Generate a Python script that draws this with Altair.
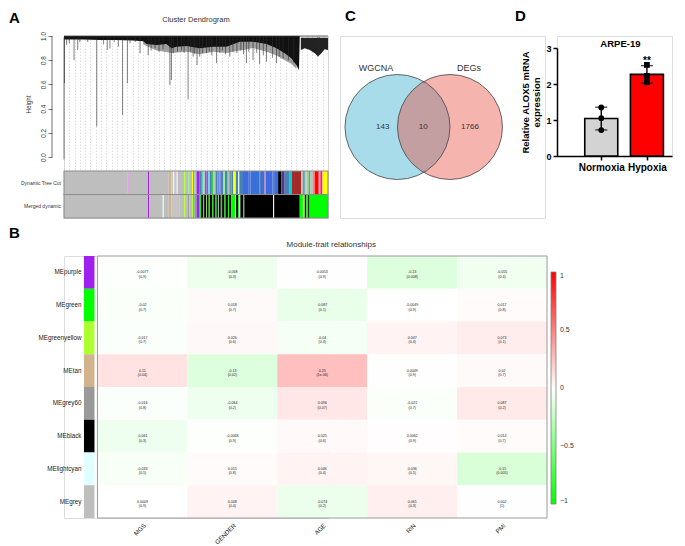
import altair as alt
import numpy as np
import pandas as pd

FONT = "Liberation Sans"

# ---------------- Panel A: cluster dendrogram (leaf order 0..1000, height) ----------------
core_u = [0, 73, 136, 199, 262, 300, 313, 351, 388, 407, 426, 464, 514, 565, 615, 666, 716, 767, 805, 836, 861, 880, 890, 893]
core_h = [0.972, 0.972, 0.967, 0.967, 0.962, 0.956, 0.934, 0.926, 0.934, 0.898, 0.912, 0.918, 0.898, 0.912, 0.912, 0.953, 0.953, 0.934, 0.898, 0.857, 0.816, 0.761, 0.72, 0.99]
fringe_u = [300, 351, 407, 464, 514, 565, 615, 666, 716, 767, 805, 836, 861, 880]
fringe_h = [0.93, 0.88, 0.86, 0.87, 0.85, 0.87, 0.86, 0.88, 0.9, 0.87, 0.84, 0.8, 0.77, 0.73]
right_u = [897, 912, 931, 950, 962, 975, 987, 1000]
right_h = [0.885, 0.898, 0.885, 0.857, 0.83, 0.857, 0.89, 0.885]
drop_u = [0, 2, 10, 20, 38, 52, 60, 90, 124, 150, 164, 174, 190, 206, 222, 240, 250, 270, 288, 319, 330, 345, 360,
          375, 401, 407, 414, 430, 445, 455, 470, 480, 489, 495, 504, 514, 525, 540, 550, 560, 578, 590, 600, 612,
          628, 640, 655, 670, 680, 691, 700, 716, 730, 741, 755, 767, 790, 805, 815, 830, 850, 870, 962, 968]
drop_h = [-0.02, 0.61, 0.926, 0.94, 0.80, 0.885, 0.95, 0.95, 0.253, 0.93, 0.885, 0.898, 0.95, 0.912, 0.349, 0.61, 0.94,
          0.95, 0.857, 0.843, 0.88, 0.9, 0.87, 0.89, 0.596, 0.637, 0.857, 0.87, 0.88, 0.86, 0.478, 0.87, 0.83, 0.85,
          0.761, 0.83, 0.86, 0.857, 0.87, 0.84, 0.775, 0.86, 0.88, 0.85, 0.83, 0.87, 0.86, 0.88, 0.85, 0.775, 0.87,
          0.802, 0.86, 0.77, 0.84, 0.788, 0.82, 0.775, 0.83, 0.816, 0.80, 0.78, 0.83, 0.857]
tree_rows = ["Dynamic Tree Cut", "Merged dynamic"]
dyn_segments = [
    (0, 241, "#BEBEBE"), (241, 246, "#DDA0DD"), (246, 318, "#BEBEBE"), (318, 323, "#A020F0"), (323, 397, "#BEBEBE"),
    (397, 406, "#D2B48C"), (406, 413, "#C8C8C8"), (413, 417, "#E0FFFF"), (417, 427, "#C8C8C8"), (427, 431, "#E6E6FA"),
    (431, 455, "#BEBEBE"), (455, 459, "#ADFF2F"), (459, 470, "#BEBEBE"), (470, 474, "#90EE90"), (474, 485, "#BEBEBE"),
    (485, 489, "#FFFF00"), (489, 494, "#32CD32"), (494, 502, "#BEBEBE"), (502, 514, "#A020F0"), (514, 522, "#4682B4"),
    (522, 528, "#66CDAA"), (528, 534, "#BEBEBE"), (534, 540, "#4682B4"), (540, 545, "#A020F0"), (545, 552, "#87CEEB"),
    (552, 560, "#4682B4"), (560, 566, "#32CD32"), (566, 574, "#BEBEBE"), (574, 582, "#4682B4"), (582, 588, "#6495ED"),
    (588, 594, "#9370DB"), (594, 604, "#4682B4"), (604, 610, "#90EE90"), (610, 620, "#4682B4"), (620, 626, "#BEBEBE"),
    (626, 634, "#5F9EA0"), (634, 641, "#4682B4"), (641, 651, "#FFFF00"), (651, 660, "#4682B4"), (660, 664, "#E0FFFF"),
    (664, 678, "#4682B4"), (678, 700, "#4169E1"), (700, 706, "#4682B4"), (706, 740, "#3A6FD8"), (740, 746, "#4682B4"),
    (746, 760, "#4169E1"), (760, 764, "#FA8072"), (764, 790, "#4169E1"), (790, 796, "#4682B4"), (796, 811, "#4169E1"),
    (811, 823, "#000000"), (823, 836, "#483D8B"), (836, 855, "#4682B4"), (855, 863, "#00CED1"), (863, 899, "#A52A2A"),
    (899, 906, "#BEBEBE"), (906, 912, "#4682B4"), (912, 918, "#90EE90"), (918, 926, "#BEBEBE"), (926, 932, "#32CD32"),
    (932, 943, "#BEBEBE"), (943, 950, "#FA8072"), (950, 965, "#FF0000"), (965, 971, "#BEBEBE"), (971, 979, "#FF1493"),
    (979, 1000, "#FFFF00")]
merged_segments = [
    (0, 318, "#BEBEBE"), (318, 323, "#A020F0"), (323, 374, "#BEBEBE"), (374, 378, "#E0FFFF"), (378, 397, "#BEBEBE"),
    (397, 406, "#D2B48C"), (406, 439, "#C4C4C4"), (439, 455, "#BEBEBE"), (455, 459, "#ADFF2F"), (459, 470, "#BEBEBE"),
    (470, 474, "#999999"), (474, 485, "#BEBEBE"), (485, 489, "#ADFF2F"), (489, 494, "#00FF00"), (494, 502, "#999999"),
    (502, 514, "#A020F0"), (514, 519, "#00FF00"), (519, 527, "#000000"), (527, 531, "#00FF00"), (531, 538, "#000000"),
    (538, 541, "#ADFF2F"), (541, 548, "#000000"), (548, 553, "#00FF00"), (553, 562, "#000000"), (562, 566, "#00FF00"),
    (566, 574, "#000000"), (574, 578, "#00FF00"), (578, 583, "#000000"), (583, 586, "#E0FFFF"), (586, 594, "#000000"),
    (594, 599, "#00FF00"), (599, 608, "#000000"), (608, 612, "#00FF00"), (612, 621, "#000000"), (621, 625, "#00FF00"),
    (625, 633, "#000000"), (633, 648, "#00FF00"), (648, 652, "#E0FFFF"), (652, 660, "#000000"), (660, 664, "#00FF00"),
    (664, 668, "#E0FFFF"), (668, 678, "#000000"), (678, 683, "#00FF00"), (683, 792, "#000000"), (792, 796, "#E0FFFF"),
    (796, 893, "#000000"), (893, 905, "#00FF00"), (905, 912, "#ADFF2F"), (912, 918, "#000000"), (918, 925, "#00FF00"),
    (925, 930, "#000000"), (930, 1000, "#00FF00")]

# ---------------- Panel C: Venn ----------------
venn_names = ["WGCNA", "DEGs"]
venn_cx = [0.0, 1.0]
venn_fill = ["#A9DCEB", "#E8493A"]
venn_alpha = [1.0, 0.41]
venn_name_x = [-0.41, 1.36]
venn_name_y = [1.12, 1.12]
venn_counts = ["143", "10", "1766"]
venn_count_x = [-0.28, 0.49, 1.38]

# ---------------- Panel D: qPCR ----------------
conditions = ["Normoxia", "Hypoxia"]
cond_pos = [1, 2]
replicates = {"Normoxia": [1.35, 1.05, 0.72], "Hypoxia": [2.53, 2.22, 2.05]}
bar_fill = ["#D3D3D3", "#FF0000"]

# ---------------- Panel B: module-trait heatmap ----------------
modules = ["MEpurple", "MEgreen", "MEgreenyellow", "MEtan", "MEgrey60", "MEblack", "MElightcyan", "MEgrey"]
module_colors = ["#A020F0", "#00FF00", "#ADFF2F", "#D2B48C", "#999999", "#000000", "#E0FFFF", "#BEBEBE"]
traits = ["MGS", "GENDER", "AGE", "RIN", "PMI"]
cor_rows = [
    [-0.0077, -0.068, 0.0053, -0.13, -0.055],
    [-0.02, 0.018, -0.087, -0.0049, 0.017],
    [-0.017, 0.026, -0.04, 0.047, 0.073],
    [0.11, -0.13, 0.25, 0.0049, 0.02],
    [-0.016, -0.064, 0.096, -0.021, 0.087],
    [-0.061, -0.0068, 0.025, 0.0062, 0.014],
    [-0.033, 0.015, 0.046, 0.036, -0.15],
    [0.0009, 0.048, -0.074, 0.061, 0.002]]
p_rows = [
    ["0.9", "0.3", "0.9", "0.008", "0.4"],
    ["0.7", "0.7", "0.1", "0.9", "0.8"],
    ["0.7", "0.6", "0.4", "0.4", "0.1"],
    ["0.04", "0.02", "1e-06", "0.9", "0.7"],
    ["0.8", "0.2", "0.07", "0.7", "0.2"],
    ["0.3", "0.9", "0.6", "0.9", "0.7"],
    ["0.5", "0.8", "0.4", "0.5", "0.005"],
    ["0.9", "0.4", "0.2", "0.3", "1"]]

one = pd.DataFrame({"k": [0]})


def letter(t, dx, dy):
    return alt.TitleParams(t, anchor="start", frame="group", dx=dx, dy=dy, fontSize=15, fontWeight="bold",
                           font=FONT, color="#000000")


# ======================= Chart A =======================
sxA = alt.Scale(domain=[0, 1000], nice=False, zero=False)
syA = alt.Scale(domain=[-0.503, 1.0], nice=False, zero=False)
axXA = alt.Axis(labels=False, ticks=False, domain=False, grid=True, gridDash=[1.5, 1.5], gridColor="#C8C8C8",
                gridWidth=0.6, tickCount=50, title=None)
axYA = alt.Axis(values=[0, 0.2, 0.4, 0.6, 0.8, 1.0], format=".1f", offset=12, domain=False, grid=False,
                tickSize=4, tickColor="#333333", tickWidth=0.7, labelAngle=-90, labelAlign="center",
                labelBaseline="bottom", labelFontSize=6.3, labelPadding=2, labelColor="#333333", labelFont=FONT,
                labelOverlap=False, labelBound=False, title="Height", titleFontSize=6.3, titleFontWeight="normal",
                titleColor="#333333", titleFont=FONT, titleY=68, titlePadding=9)


def XA(f):
    return alt.X(f, scale=sxA, axis=axXA)


def YA(f):
    return alt.Y(f, scale=syA, axis=axYA)


fringe = alt.Chart(pd.DataFrame({"u": fringe_u, "h": fringe_h, "top": 0.97})).mark_area(
    color="#777777", opacity=0.7).encode(x=XA("u:Q"), y=YA("h:Q"), y2="top:Q")
core = alt.Chart(pd.DataFrame({"u": core_u, "h": core_h, "top": 1.0})).mark_area(color="#111111").encode(
    x=XA("u:Q"), y=YA("h:Q"), y2="top:Q")
right = alt.Chart(pd.DataFrame({"u": right_u, "h": right_h, "top": 0.985})).mark_area(color="#222222").encode(
    x=XA("u:Q"), y=YA("h:Q"), y2="top:Q")
top_line = alt.Chart(one).mark_rule(color="#444444", strokeWidth=0.8).encode(
    x=XA("a:Q"), x2="b:Q", y=YA("c:Q")).transform_calculate(a="0", b="1000", c="1")
drops = alt.Chart(pd.DataFrame({"u": drop_u, "h": drop_h, "top": 0.99})).mark_rule(
    color="#2A2A2A", strokeWidth=0.6).encode(x=XA("u:Q"), y=YA("h:Q"), y2="top:Q")

row_top = [-0.115, -0.309]
row_bot = [-0.309, -0.503]
seg_records = []
for r, segs in enumerate([dyn_segments, merged_segments]):
    for s, e, c in segs:
        seg_records.append({"s": s, "e": e, "c": c, "top": row_top[r], "bot": row_bot[r]})
seg_df = pd.DataFrame(seg_records)
bars_A = alt.Chart(seg_df).mark_rect(strokeWidth=0).encode(
    x=XA("s:Q"), x2="e:Q", y=YA("top:Q"), y2="bot:Q", fill=alt.Fill("c:N", scale=None))
rows_df = pd.DataFrame({"name": tree_rows, "top": row_top, "bot": row_bot, "x0": 0, "x1": 1000,
                        "mid": [(a + b) / 2 for a, b in zip(row_top, row_bot)]})
frames_A = alt.Chart(rows_df).mark_rect(filled=False, stroke="#8C8C8C", strokeWidth=1.1).encode(
    x=XA("x0:Q"), x2="x1:Q", y=YA("top:Q"), y2="bot:Q")
labels_A = alt.Chart(rows_df).mark_text(align="right", baseline="middle", fontSize=5, font=FONT,
                                        color="#333333", dx=-3).encode(x=XA("x0:Q"), y=YA("mid:Q"), text="name:N")
title_A = alt.Chart(one).mark_text(text="Cluster Dendrogram", fontSize=7.5, font=FONT, color="#333333",
                                   baseline="middle", dy=-16).encode(x=XA("a:Q"), y=YA("c:Q")).transform_calculate(
    a="500", c="1")
axis_line_A = alt.Chart(one).mark_rule(color="#333333", strokeWidth=0.7).encode(
    x=alt.value(-12), y=YA("a:Q"), y2="c:Q").transform_calculate(a="0", c="1")

chartA = alt.layer(fringe, core, right, top_line, drops, bars_A, frames_A, labels_A, title_A, axis_line_A).properties(
    width=264, height=182, title=letter("A", -55, 14))

# ======================= Chart C =======================
sxC = alt.Scale(domain=[-1.095, 2.81], nice=False, zero=False)
syC = alt.Scale(domain=[-1.733, 1.733], nice=False, zero=False)
venn_df = pd.DataFrame({"name": venn_names, "cx": venn_cx, "cy": 0.0, "fill": venn_fill, "alpha": venn_alpha})
circle_size = 105 ** 2
venn_fill_layer = alt.Chart(venn_df).mark_point(filled=True, size=circle_size, strokeWidth=0, shape="circle").encode(
    x=alt.X("cx:Q", scale=sxC, axis=None), y=alt.Y("cy:Q", scale=syC, axis=None),
    fill=alt.Fill("fill:N", scale=None), opacity=alt.Opacity("alpha:Q", scale=None))
venn_line_layer = alt.Chart(venn_df).mark_point(filled=False, size=circle_size, color="#444444", strokeWidth=0.8,
                                                opacity=1, shape="circle").encode(
    x=alt.X("cx:Q", scale=sxC, axis=None), y=alt.Y("cy:Q", scale=syC, axis=None))
venn_names_layer = alt.Chart(pd.DataFrame({"name": venn_names, "x": venn_name_x, "y": venn_name_y})).mark_text(
    fontSize=9, font=FONT, color="#333333").encode(
    x=alt.X("x:Q", scale=sxC, axis=None), y=alt.Y("y:Q", scale=syC, axis=None), text="name:N")
venn_counts_layer = alt.Chart(pd.DataFrame({"n": venn_counts, "x": venn_count_x, "y": 0.0})).mark_text(
    fontSize=8, font=FONT, color="#333333").encode(
    x=alt.X("x:Q", scale=sxC, axis=None), y=alt.Y("y:Q", scale=syC, axis=None), text="n:N")
chartC = alt.layer(venn_fill_layer, venn_line_layer, venn_names_layer, venn_counts_layer).properties(
    width=205, height=182, title=letter("C", 5, -8))

# ======================= Chart D =======================
bar_records, pt_records = [], []
for cond, pos, fc in zip(conditions, cond_pos, bar_fill):
    vals = np.array(replicates[cond])
    m, sd = vals.mean(), vals.std(ddof=1)
    bar_records.append({"cond": cond, "pos": pos, "mean": m, "lo": m - sd, "hi": m + sd, "fill": fc})
    for v in vals:
        pt_records.append({"cond": cond, "pos": pos, "val": v})
bar_df = pd.DataFrame(bar_records)
pt_df = pd.DataFrame(pt_records)
cap_df = pd.concat([bar_df[["pos", "lo"]].rename(columns={"lo": "v"}), bar_df[["pos", "hi"]].rename(columns={"hi": "v"})])

sxD = alt.Scale(domain=[0.14, 2.44], nice=False, zero=False)
syD = alt.Scale(domain=[0, 3], range=[120, 12], nice=False, zero=False)
axXD = alt.Axis(values=cond_pos, labelExpr=f"{conditions}[datum.value - 1]", labelFontSize=10,
                labelFontWeight="bold", labelFont=FONT, labelColor="#000000", tickSize=4, tickWidth=1.5,
                tickColor="#000000", domainColor="#000000", domainWidth=1.5, grid=False, title=None, labelPadding=2)
axYD = alt.Axis(values=[0, 1, 2, 3], labelFontSize=9, labelFontWeight="bold", labelFont=FONT,
                labelColor="#000000", tickSize=4, tickWidth=1.5, tickColor="#000000", domainColor="#000000",
                domainWidth=1.5, grid=False, title=["Relative ALOX5 mRNA", "expression"], titleFontSize=9.5,
                titleFont=FONT, titleFontWeight="bold", titleColor="#000000", titlePadding=4, labelPadding=2)


def XD(f):
    return alt.X(f, scale=sxD, axis=axXD)


def YD(f):
    return alt.Y(f, scale=syD, axis=axYD)


barsD = alt.Chart(bar_df).mark_bar(size=33, stroke="#000000", strokeWidth=1.6).encode(
    x=XD("pos:Q"), y=YD("mean:Q"), fill=alt.Fill("fill:N", scale=None))
errD = alt.Chart(bar_df).mark_rule(color="#000000", strokeWidth=1.4).encode(x=XD("pos:Q"), y=YD("lo:Q"), y2="hi:Q")
capsD = alt.Chart(cap_df).mark_tick(orient="horizontal", size=12, thickness=1.4, color="#000000").encode(
    x=XD("pos:Q"), y=YD("v:Q"))
ptsD = alt.Chart(pt_df).mark_point(filled=True, size=34, color="#000000", opacity=1).encode(
    x=XD("pos:Q"), y=YD("val:Q"),
    shape=alt.Shape("cond:N", scale=alt.Scale(domain=conditions, range=["circle", "square"]), legend=None))
starsD = alt.Chart(one).mark_text(text="**", fontSize=10, fontWeight="bold", font=FONT, baseline="middle",
                                  dy=3).encode(x=XD("a:Q"), y=YD("b:Q")).transform_calculate(a="2", b="2.72")
titleD = alt.Chart(one).mark_text(text="ARPE-19", fontSize=9.5, fontWeight="bold", font=FONT,
                                  baseline="middle").encode(x=XD("a:Q"), y=YD("b:Q")).transform_calculate(
    a="1.42", b="3.1")
chartD = alt.layer(barsD, errD, capsD, ptsD, starsD, titleD).properties(
    width=115, height=120, title=letter("D", -42, -8))

# ======================= Chart B =======================
cell_records = []
for i, mod in enumerate(modules):
    for j, tr in enumerate(traits):
        v = cor_rows[i][j]
        cell_records.append({"module": mod, "trait": tr, "x0": j, "x1": j + 1, "cor": v,
                             "label": f"{v:g}\n({p_rows[i][j]})"})
cell_df = pd.DataFrame(cell_records)
strip_df = pd.DataFrame({"module": modules, "mcolor": module_colors})

B_LAYOUT_W = 264   # width the grid reserves (same column as panel A)
B_DRAW_W = 483     # width actually drawn
sxB = alt.Scale(domain=[-0.372, 5], range=[0, B_DRAW_W], nice=False, zero=False)
syB = alt.Scale(type="band", domain=modules, paddingInner=0, paddingOuter=0)
axXB = alt.Axis(values=[0.5, 1.5, 2.5, 3.5, 4.5], labelExpr=f"{traits}[floor(datum.value)]", labelAngle=-45,
                labelAlign="right", labelBaseline="top", labelFontSize=6.2, labelFont=FONT, labelColor="#222222",
                ticks=False, domain=False, grid=False, title=None, labelPadding=4)
axYB = alt.Axis(labelFontSize=6.3, labelFont=FONT, labelColor="#222222", ticks=False, domain=False, grid=False,
                title=None, labelPadding=3, offset=-20)


def XB(f):
    return alt.X(f, scale=sxB, axis=axXB)


def YB(f):
    return alt.Y(f, scale=syB, axis=axYB, sort=modules)


strip = alt.Chart(strip_df).mark_rect().encode(
    x=XB("a:Q"), x2="b:Q", y=YB("module:N"), fill=alt.Fill("mcolor:N", scale=None)).transform_calculate(
    a="-0.15", b="-0.033")
cells = alt.Chart(cell_df).mark_rect().encode(
    x=XB("x0:Q"), x2="x1:Q", y=YB("module:N"),
    color=alt.Color("cor:Q",
                    scale=alt.Scale(domain=[-1, 0, 1], range=["#00FF00", "#FFFFFF", "#FF0000"], interpolate="rgb"),
                    legend=alt.Legend(orient="right", offset=B_DRAW_W - B_LAYOUT_W - 12, padding=16,
                                      direction="vertical", gradientLength=232, gradientThickness=5,
                                      values=[-1, -0.5, 0, 0.5, 1], format="~g", title=None, labelFontSize=7,
                                      labelFont=FONT, labelColor="#333333", gradientStrokeColor="#808080",
                                      gradientStrokeWidth=0.8, labelOffset=4)))
frameB = alt.Chart(one).mark_rect(filled=False, stroke="#9A9A9A", strokeWidth=1).encode(
    x=XB("a:Q"), x2="b:Q").transform_calculate(a="0", b="5")
texts = alt.Chart(cell_df).mark_text(fontSize=3.6, lineHeight=4.4, font=FONT, color="#222222", lineBreak="\n",
                                     baseline="middle").encode(
    x=XB("mid:Q"), y=YB("module:N"), text="label:N").transform_calculate(mid="datum.x0 + 0.5")
titleB = alt.Chart(one).mark_text(text="Module-trait relationships", fontSize=8, font=FONT, color="#333333",
                                  baseline="middle", dy=-27).encode(
    x=XB("a:Q"), y=YB("m:N")).transform_calculate(a="2.6", m="'MEpurple'")
chartB = alt.layer(strip, cells, frameB, texts, titleB).properties(
    width=B_LAYOUT_W, height=262, title=letter("B", -55, 4))

chart = alt.concat(chartA, chartC, chartD, chartB, columns=3, bounds="flush",
                   spacing=alt.RowColnumber(row=38, column=12), padding=0).resolve_legend(
    color="independent").resolve_scale(color="independent").configure_view(
    stroke="transparent", strokeWidth=0).configure(font=FONT)

chart.save("out.html", embed_options={"renderer": "svg", "actions": False})
